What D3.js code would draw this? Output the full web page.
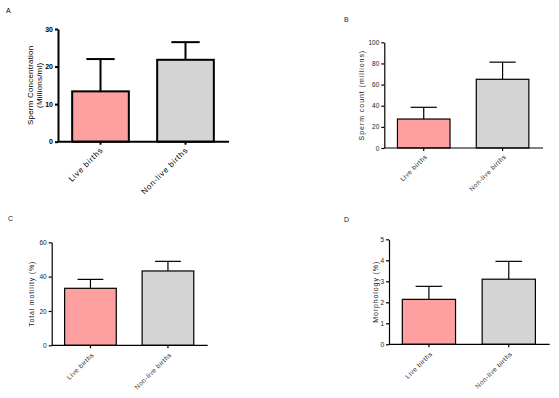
<!DOCTYPE html>
<html>
<head>
<meta charset="utf-8">
<script src="https://cdn.jsdelivr.net/npm/d3@7"></script>
<style>
  body { margin: 0; background: #fff; }
  text { font-family: Arial, "Liberation Sans", sans-serif; }
</style>
</head>
<body>
<div id="chart"></div>
<script>
// data
const groups = ["Live births", "Non-live births"];
const barColors = ["#ffa0a0", "#d4d4d4"];

const concMean = [13.4, 21.8];
const concErr  = [22.0, 26.5];
const concTicks = [0, 10, 20, 30];

const countMean = [27.4, 65.0];
const countErr  = [38.5, 81.2];
const countTicks = [0, 20, 40, 60, 80, 100];

const motMean = [33.2, 43.3];
const motErr  = [38.4, 48.9];
const motTicks = [0, 20, 40, 60];

const morphMean = [2.14, 3.1];
const morphErr  = [2.76, 3.95];
const morphTicks = [0, 1, 2, 3, 4, 5];

const svg = d3.select("#chart")
  .append("svg")
    .attr("width", 559)
    .attr("height", 398);

// panel boxes (pixel layout)
const panels = [
  { tag: "A", tagX: 6, tagY: 13, left: 58, right: 228, top: 29, bottom: 141.7,
    mean: concMean, err: concErr, ticks: concTicks, max: 30,
    ylab: ["Sperm Concentration", "(Millions/ml)"], ylabX: 33, lw: 2,
    tickFs: 7, tickW: "bold", xFs: 8, xLs: 0.75, yFs: 8, yLs: 0.2, off: [3, 9], ink: "#000" },
  { tag: "B", tagX: 344, tagY: 22, left: 384.3, right: 542, top: 42.3, bottom: 148,
    mean: countMean, err: countErr, ticks: countTicks, max: 100,
    ylab: ["Sperm count (millions)"], ylabX: 363.5, lw: 1.2,
    tickFs: 6.5, tickW: "normal", xFs: 6.5, xLs: 0.5, yFs: 7, yLs: 0.95, off: [4, 9], ink: "#222" },
  { tag: "C", tagX: 8, tagY: 221, left: 51.7, right: 206.7, top: 242.3, bottom: 345.3,
    mean: motMean, err: motErr, ticks: motTicks, max: 60,
    ylab: ["Total motility (%)"], ylabX: 34, lw: 1.2,
    tickFs: 6.5, tickW: "normal", xFs: 6.5, xLs: 0.5, yFs: 7, yLs: 0.8, off: [4, 10], ink: "#222" },
  { tag: "D", tagX: 344, tagY: 222, left: 389, right: 548.7, top: 239.3, bottom: 344.3,
    mean: morphMean, err: morphErr, ticks: morphTicks, max: 5,
    ylab: ["Morphology (%)"], ylabX: 377.5, lw: 1.2,
    tickFs: 6.5, tickW: "normal", xFs: 6.5, xLs: 0.5, yFs: 7, yLs: 0.9, off: [4, 10], ink: "#222" }
];

panels.forEach(function(p) {
  const g = svg.append("g");

  const x = d3.scaleBand()
    .domain(groups)
    .range([p.left, p.right])
    .paddingInner(1 / 3)
    .paddingOuter(1 / 6);

  const y = d3.scaleLinear()
    .domain([0, p.max])
    .range([p.bottom, p.top]);

  // panel letter
  g.append("text")
    .attr("x", p.tagX)
    .attr("y", p.tagY)
    .style("font-size", "7px")
    .attr("fill", p.ink)
    .text(p.tag);

  const rows = groups.map(function(d, i) { return { name: d, mean: p.mean[i], err: p.err[i], i: i }; });

  // error bars (drawn first, bar covers the lower part)
  g.selectAll(".eb")
    .data(rows)
    .enter()
    .append("line")
      .attr("x1", d => x(d.name) + x.bandwidth() / 2)
      .attr("x2", d => x(d.name) + x.bandwidth() / 2)
      .attr("y1", d => y(d.mean))
      .attr("y2", d => y(d.err))
      .attr("stroke", "#000")
      .attr("stroke-width", p.lw);

  g.selectAll(".cap")
    .data(rows)
    .enter()
    .append("line")
      .attr("x1", d => x(d.name) + x.bandwidth() / 4)
      .attr("x2", d => x(d.name) + x.bandwidth() * 3 / 4)
      .attr("y1", d => y(d.err))
      .attr("y2", d => y(d.err))
      .attr("stroke", "#000")
      .attr("stroke-width", p.lw);

  // bars
  g.selectAll(".bar")
    .data(rows)
    .enter()
    .append("rect")
      .attr("x", d => x(d.name))
      .attr("y", d => y(d.mean))
      .attr("width", x.bandwidth())
      .attr("height", d => y(0) - y(d.mean))
      .attr("fill", d => barColors[d.i])
      .attr("stroke", "#000")
      .attr("stroke-width", p.lw);

  // y axis
  const yAxis = g.append("g")
    .attr("transform", `translate(${p.left},0)`)
    .call(d3.axisLeft(y).tickValues(p.ticks).tickFormat(d3.format("d"))
      .tickSize(3).tickPadding(2).tickSizeOuter(0));
  yAxis.select(".domain").attr("stroke", "#000").attr("stroke-width", p.lw);
  yAxis.selectAll(".tick line").attr("stroke", "#000").attr("stroke-width", p.lw);
  yAxis.selectAll(".tick text")
    .style("font-size", p.tickFs + "px")
    .style("font-weight", p.tickW)
    .style("font-family", "Arial, 'Liberation Sans', sans-serif")
    .attr("fill", p.ink);

  // x axis
  const xAxis = g.append("g")
    .attr("transform", `translate(0,${p.bottom})`)
    .call(d3.axisBottom(x).tickSize(3).tickSizeOuter(0));
  xAxis.select(".domain")
    .attr("d", `M${p.left},0H${p.right + 1}`)
    .attr("stroke", "#000").attr("stroke-width", p.lw);
  xAxis.selectAll(".tick line").attr("stroke", "#000").attr("stroke-width", p.lw);
  xAxis.selectAll(".tick text")
    .style("font-size", p.xFs + "px")
    .style("font-family", "Arial, 'Liberation Sans', sans-serif")
    .style("letter-spacing", p.xLs + "px")
    .attr("fill", p.ink)
    .attr("text-anchor", "end")
    .attr("dy", null)
    .attr("y", 0)
    .attr("transform", `translate(${p.off[0]},${p.off[1]}) rotate(-45)`);

  // y axis title
  const mid = (p.top + p.bottom) / 2;
  p.ylab.forEach(function(line, k) {
    g.append("text")
      .attr("transform", `translate(${p.ylabX + k * 8.5},${mid}) rotate(-90)`)
      .attr("text-anchor", "middle")
      .style("font-size", p.yFs + "px")
      .style("letter-spacing", p.yLs + "px")
      .attr("fill", p.ink)
      .text(line);
  });
});
</script>
</body>
</html>
